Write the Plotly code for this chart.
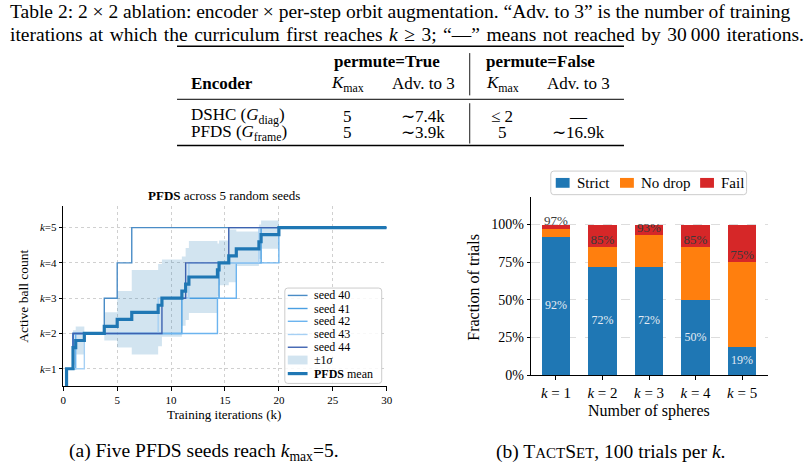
import numpy as np
import plotly.graph_objects as go

W, H = 805, 474
def px(x): return x / W
def py(y): return 1 - y / H

SERIF = "Liberation Serif"

# ---------------- Table data ----------------
caption_lines = [
    "Table 2: 2 × 2 ablation: encoder × per-step orbit augmentation. “Adv. to 3” is the number of training",
    "iterations at which the curriculum first reaches <i>k</i> ≥ 3; “—” means not reached by 30\u2009000 iterations.",
]
group_headers = ["<b>permute=True</b>", "<b>permute=False</b>"]
col_headers = ["<b>Encoder</b>", "<i>K</i><sub>max</sub>", "Adv. to 3", "<i>K</i><sub>max</sub>", "Adv. to 3"]
encoders = ["DSHC (<i>G</i><sub>diag</sub>)", "PFDS (<i>G</i><sub>frame</sub>)"]
kmax_true = ["5", "5"]
adv_true = ["∼7.4k", "∼3.9k"]
kmax_false = ["≤ 2", "5"]
adv_false = ["—", "∼16.9k"]

# ---------------- Panel (a) data ----------------
seed_names = ["seed 40", "seed 41", "seed 42", "seed 43", "seed 44"]
seed_colors = ["#4a8cc6", "#4a9fe2", "#6cb4ef", "#a6d0f4", "#3d62b0"]
# iteration (k) at which each seed reaches ball count 0,1,2,3,4,5
seed_steps = [
    [0, 0.3, 0.9, 3.8, 5.0, 6.35],
    [0, 0.3, 0.9, 11.0, 14.45, 18.35],
    [0, 0.3, 1.15, 14.3, 16.05, 20.0],
    [0, 0.3, 1.95, 8.8, 11.65, 18.15],
    [0, 0.3, 0.9, 9.15, 11.35, 15.35],
]
ball_levels = [0, 1, 2, 3, 4, 5]
iter_max = 30
y_ticks_a = [1, 2, 3, 4, 5]
y_ticklabels_a = ["<i>k</i>=1", "<i>k</i>=2", "<i>k</i>=3", "<i>k</i>=4", "<i>k</i>=5"]
x_ticks_a = [0, 5, 10, 15, 20, 25, 30]

# ---------------- Panel (b) data ----------------
sphere_labels = ["<i>k</i> = 1", "<i>k</i> = 2", "<i>k</i> = 3", "<i>k</i> = 4", "<i>k</i> = 5"]
strict = [92, 72, 72, 50, 19]
no_drop = [5, 13, 21, 35, 56]
fail = [3, 15, 7, 15, 25]
outcome_names = ["Strict", "No drop", "Fail"]
outcome_colors = ["#1f77b4", "#ff7f0e", "#d62728"]
y_ticks_b = [0, 0.25, 0.5, 0.75, 1.0]
y_ticklabels_b = ["0%", "25%", "50%", "75%", "100%"]

fig = go.Figure()

# ---- panel (a) ----
grid = np.unique(np.concatenate([np.array(s, float) for s in seed_steps] + [np.array([iter_max], float)]))
vals = np.array([[ball_levels[np.searchsorted(s, t, side="right") - 1] for t in grid] for s in seed_steps], float)
mean = vals.mean(axis=0)
std = vals.std(axis=0)

fig.add_trace(go.Scatter(x=grid, y=mean - std, mode="lines", line=dict(width=0, shape="hv"),
                         showlegend=False, hoverinfo="skip", xaxis="x", yaxis="y"))
fig.add_trace(go.Scatter(x=grid, y=mean + std, mode="lines", line=dict(width=0, shape="hv"),
                         fill="tonexty", fillcolor="rgba(31,119,180,0.2)",
                         showlegend=False, hoverinfo="skip", xaxis="x", yaxis="y"))
for name, col, st in zip(seed_names, seed_colors, seed_steps):
    fig.add_trace(go.Scatter(x=list(st) + [iter_max], y=ball_levels + [ball_levels[-1]],
                             mode="lines", line=dict(color=col, width=1.4, shape="hv"),
                             name=name, showlegend=False, xaxis="x", yaxis="y"))
fig.add_trace(go.Scatter(x=grid, y=mean, mode="lines", line=dict(color="#1f77b4", width=3.2, shape="hv"),
                         name="PFDS mean", showlegend=False, xaxis="x", yaxis="y"))

# ---- panel (b) ----
idx = list(range(len(sphere_labels)))
for vals_b, name, col in zip([strict, no_drop, fail], outcome_names, outcome_colors):
    fig.add_trace(go.Bar(x=idx, y=[v / 100 for v in vals_b], width=0.62, name=name, showlegend=False,
                         marker=dict(color=col, line=dict(width=0)), xaxis="x2", yaxis="y2"))
fig.add_trace(go.Scatter(x=idx, y=[s / 200 for s in strict], mode="text",
                         text=[f"{s}%" for s in strict],
                         textfont=dict(family=SERIF, size=12, color="#e3ebf3"),
                         showlegend=False, hoverinfo="skip", xaxis="x2", yaxis="y2"))
cum = [s + n for s, n in zip(strict, no_drop)]
fig.add_trace(go.Scatter(x=idx, y=[c / 100 + 0.045 for c in cum], mode="text",
                         text=[f"{c}%" for c in cum],
                         textfont=dict(family=SERIF, size=13, color="#3a3a3a"),
                         showlegend=False, hoverinfo="skip", xaxis="x2", yaxis="y2"))

shapes = []
ann = []

def add_text(x, y, text, size, anchor="center", angle=0):
    ann.append(dict(x=px(x), y=py(y), xref="paper", yref="paper", text=text, showarrow=False,
                    xanchor=anchor, yanchor="middle", textangle=angle,
                    font=dict(family=SERIF, size=size, color="black")))

def hline(x0, x1, y, w, col="black"):
    shapes.append(dict(type="line", xref="paper", yref="paper", x0=px(x0), x1=px(x1), y0=py(y), y1=py(y),
                       line=dict(color=col, width=w)))

def vline(x, y0, y1, w, col="black"):
    shapes.append(dict(type="line", xref="paper", yref="paper", x0=px(x), x1=px(x), y0=py(y0), y1=py(y1),
                       line=dict(color=col, width=w)))

def rrect(x0, y0, x1, y1, r, line_col, fill):
    p = (f"M {px(x0 + r)} {py(y0)} L {px(x1 - r)} {py(y0)} Q {px(x1)} {py(y0)} {px(x1)} {py(y0 + r)} "
         f"L {px(x1)} {py(y1 - r)} Q {px(x1)} {py(y1)} {px(x1 - r)} {py(y1)} "
         f"L {px(x0 + r)} {py(y1)} Q {px(x0)} {py(y1)} {px(x0)} {py(y1 - r)} "
         f"L {px(x0)} {py(y0 + r)} Q {px(x0)} {py(y0)} {px(x0 + r)} {py(y0)} Z")
    shapes.append(dict(type="path", xref="paper", yref="paper", path=p,
                       line=dict(color=line_col, width=1), fillcolor=fill))

# ---- table ----
add_text(5, 12, caption_lines[0], 19.5, "left")
add_text(5, 35, caption_lines[1].replace(" ", " \u200a"), 19.5, "left")
hline(176, 628, 47, 1.6)
hline(176, 628, 101, 1.0)
hline(176, 628, 148, 1.6)
vline(472, 54, 97, 0.9)
vline(472, 105, 146, 0.9)
col_x = [188, 348, 425, 505, 582]
add_text(388, 63, group_headers[0], 17)
add_text(544, 63, group_headers[1], 17)
for i, h in enumerate(col_headers):
    add_text(col_x[i], 85, h, 17, "left" if i == 0 else "center")
for r in range(2):
    yy = 118 + r * 17
    add_text(col_x[0], yy, encoders[r], 17, "left")
    add_text(col_x[1], yy, kmax_true[r], 17)
    add_text(col_x[2], yy, adv_true[r], 17)
    add_text(col_x[3], yy, kmax_false[r], 17)
    add_text(col_x[4], yy, adv_false[r], 17)

# ---- panel (a) decorations ----
add_text(224, 199, "<b>PFDS</b> across 5 random seeds", 13)
add_text(224, 422, "Training iterations (k)", 13)
add_text(21, 301, "Active ball count", 13.5, angle=-90)
# legend (a)
rrect(285, 293, 383, 390, 3, "#cccccc", "rgba(255,255,255,0.85)")
leg_y = [300.5, 313.8, 326.8, 340.2, 353.2, 366.2, 380]
for i, (name, col) in enumerate(zip(seed_names, seed_colors)):
    hline(288, 308, leg_y[i], 1.4, col)
    add_text(312, leg_y[i], name, 12, "left")
shapes.append(dict(type="rect", xref="paper", yref="paper", x0=px(288), x1=px(308), y0=py(leg_y[5] - 4.5),
                   y1=py(leg_y[5] + 4.5), line=dict(width=0), fillcolor="rgba(31,119,180,0.2)"))
add_text(312, leg_y[5], "±1<i>σ</i>", 12, "left")
hline(288, 308, leg_y[6], 3.2, "#1f77b4")
add_text(312, leg_y[6], "<b>PFDS</b> mean", 12, "left")

# ---- panel (b) decorations ----
add_text(653, 418, "Number of spheres", 16)
add_text(475, 292, "Fraction of trials", 16, angle=-90)
# legend (b)
rrect(554, 174, 752, 198, 3, "#cccccc", "rgba(255,255,255,0.9)")
sw_x = [559, 624, 705]
for sx, name, col in zip(sw_x, outcome_names, outcome_colors):
    shapes.append(dict(type="rect", xref="paper", yref="paper", x0=px(sx), x1=px(sx + 14),
                       y0=py(191), y1=py(181), line=dict(width=0), fillcolor=col))
    add_text(sx + 19, 186, name, 15, "left")

# ---- captions ----
add_text(203, 460, "(a) Five PFDS seeds reach <i>k</i><sub>max</sub>=5.", 19.5)
add_text(614, 460, "(b) T<span style='font-size:15px'>ACT</span>S<span style='font-size:15px'>ET</span>, 100 trials per <i>k</i>.", 19.5)

axis_common = dict(showline=True, linecolor="black", linewidth=1.1, ticks="outside", ticklen=3.5,
                   tickcolor="black", zeroline=False, mirror=False)

fig.update_layout(
    width=W, height=H, margin=dict(l=0, r=0, t=0, b=0),
    paper_bgcolor="white", plot_bgcolor="white",
    barmode="stack", showlegend=False,
    font=dict(family=SERIF, color="black"),
    xaxis=dict(domain=[px(61), px(388)], range=[0, iter_max], tickvals=x_ticks_a,
               showgrid=True, gridcolor="#d0d0d0", griddash="dot", gridwidth=0.8,
               tickfont=dict(family=SERIF, size=11), anchor="y", **axis_common),
    yaxis=dict(domain=[py(393), py(210)], range=[0.5, 5.6], tickvals=y_ticks_a, ticktext=y_ticklabels_a,
               showgrid=True, gridcolor="#d0d0d0", griddash="dot", gridwidth=0.8,
               tickfont=dict(family=SERIF, size=11), anchor="x", **axis_common),
    xaxis2=dict(domain=[px(534.3), px(773.3)], range=[-0.53, 4.55], tickvals=idx, ticktext=sphere_labels,
                showgrid=False, tickfont=dict(family=SERIF, size=15), anchor="y2", **axis_common),
    yaxis2=dict(domain=[py(381.7), py(200)], range=[0, 1.185], tickvals=y_ticks_b, ticktext=y_ticklabels_b,
                showgrid=True, gridcolor="#dddddd", griddash="dash", gridwidth=0.8,
                tickfont=dict(family=SERIF, size=14), anchor="x2", **axis_common),
    shapes=shapes, annotations=ann,
)

fig.write_html("out.html")
